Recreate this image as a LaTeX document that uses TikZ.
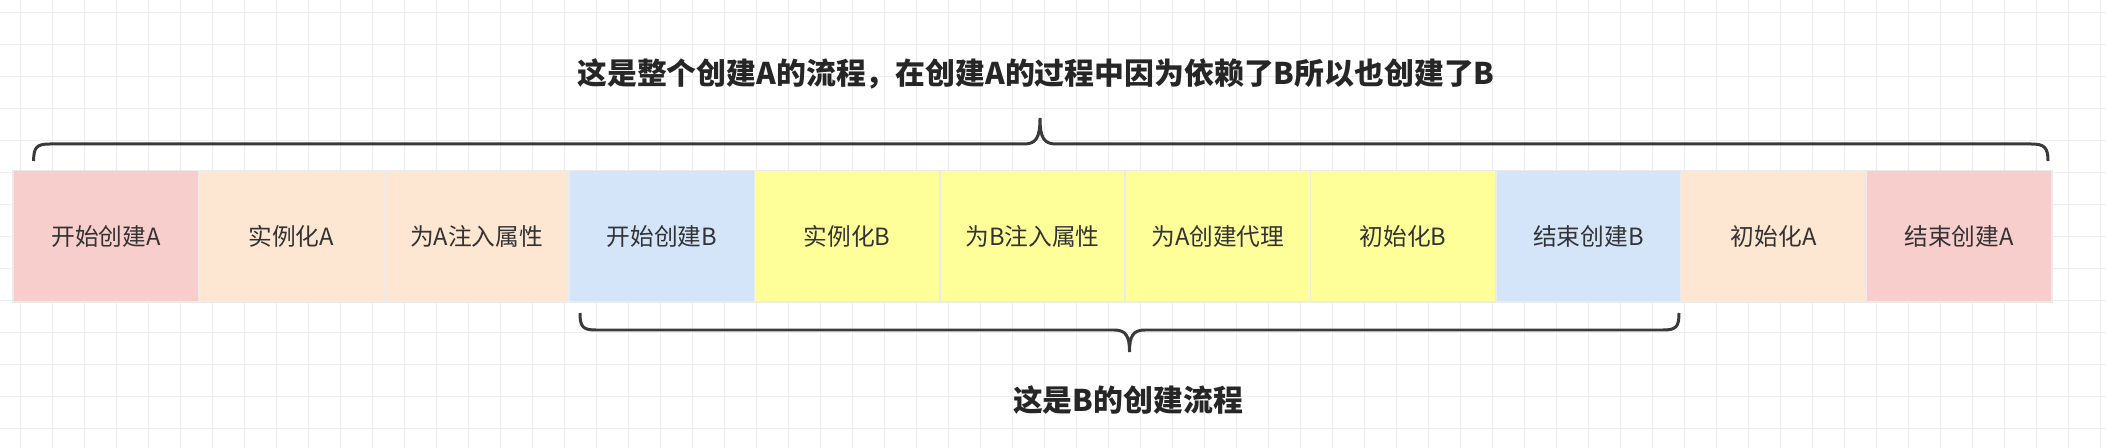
\documentclass[tikz,border=0pt]{standalone}
\usepackage{fontspec}
\setmainfont{Noto Sans CJK SC}
\usetikzlibrary{calc}
\definecolor{stepred}{HTML}{F8CECC}
\definecolor{steporange}{HTML}{FDE6D2}
\definecolor{stepblue}{HTML}{D4E5FA}
\definecolor{stepyellow}{HTML}{FFFF99}
\definecolor{inkgray}{HTML}{3A3A3A}
\begin{document}
\begin{tikzpicture}[x=0.02cm, y=-0.02cm,
    gridline/.style={draw=black!7, line width=0.5pt},
    stepbox/.style={draw=black!8, line width=1pt, inner sep=0pt, outer sep=0pt,
      minimum width=3.706cm, minimum height=2.628cm, text=black!80,
      font=\fontsize{13.5}{16}\selectfont},
    brace/.style={draw=inkgray, line width=1.7pt},
    heading/.style={text=black!85, font=\fontsize{17}{20}\selectfont\bfseries}]
    \useasboundingbox[fill=white] (0,0) rectangle (2106,448);
    % background grid
    \foreach \gx in {20,52,...,2106} \draw[gridline] (\gx,0) -- (\gx,448);
    \foreach \gy in {12,44,...,448} \draw[gridline] (0,\gy) -- (2106,\gy);
    % steps
    \node[stepbox, fill=stepred]    (s1)  at (106.0,236.3)  {开始创建A};
    \node[stepbox, fill=steporange] (s2)  at (291.3,236.3)  {实例化A};
    \node[stepbox, fill=steporange] (s3)  at (476.6,236.3)  {为A注入属性};
    \node[stepbox, fill=stepblue]   (s4)  at (661.9,236.3)  {开始创建B};
    \node[stepbox, fill=stepyellow] (s5)  at (847.2,236.3)  {实例化B};
    \node[stepbox, fill=stepyellow] (s6)  at (1032.5,236.3) {为B注入属性};
    \node[stepbox, fill=stepyellow] (s7)  at (1217.8,236.3) {为A创建代理};
    \node[stepbox, fill=stepyellow] (s8)  at (1403.1,236.3) {初始化B};
    \node[stepbox, fill=stepblue]   (s9)  at (1588.4,236.3) {结束创建B};
    \node[stepbox, fill=steporange] (s10) at (1773.7,236.3) {初始化A};
    \node[stepbox, fill=stepred]    (s11) at (1959.0,236.3) {结束创建A};
    % braces
    \draw[brace] (33.6,161) .. controls (33.6,147) and (37,144) .. (50,144) -- (1024,144)
        .. controls (1036,144) and (1040,138) .. (1040,118)
        .. controls (1040,138) and (1044,144) .. (1056,144) -- (2031,144)
        .. controls (2044,144) and (2048,147) .. (2048,161);
    \draw[brace] (580,313) .. controls (580,327) and (583,330) .. (596,330) -- (1114,330)
        .. controls (1126,330) and (1129.5,336) .. (1129.5,352)
        .. controls (1129.5,336) and (1133,330) .. (1145,330) -- (1663,330)
        .. controls (1676,330) and (1679,327) .. (1679,313);
    \node[heading] (whole) at (1036,74) {这是整个创建A的流程，在创建A的过程中因为依赖了B所以也创建了B};
    \node[heading] (partb) at (1128,400) {这是B的创建流程};
\end{tikzpicture}
\end{document}
